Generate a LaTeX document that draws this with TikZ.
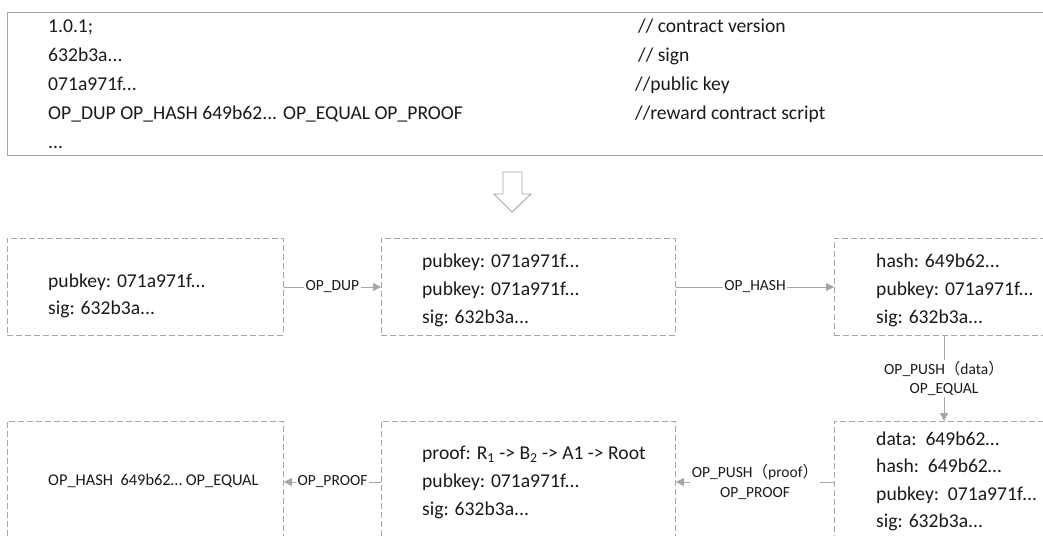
\documentclass[tikz,border=0pt]{standalone}
\usepackage{fontspec}
\setmainfont{Carlito}
\newfontfamily\cjk{Noto Sans CJK SC}
\usetikzlibrary{arrows.meta}
\definecolor{boxgray}{HTML}{A6A6A6}
\definecolor{arrgray}{HTML}{A6A6A6}
\definecolor{textc}{HTML}{1A1A1A}
\begin{document}
\begin{tikzpicture}[x=1pt,y=-1pt,
  dbox/.style={draw=boxgray, dash pattern=on 6pt off 3pt, line width=0.9pt, anchor=north west, inner sep=0pt},
  txt/.style={anchor=mid west, inner sep=0pt, font=\fontsize{19.6}{23}\selectfont, text=textc},
  lbl/.style={fill=white, inner sep=1.5pt, font=\fontsize{15.5}{19.5}\selectfont, text=textc, align=center},
  arr/.style={draw=arrgray, line width=0.9pt, -{Triangle[length=8pt,width=8pt]}}]
\clip (0,0) rectangle (1043,535);
\fill[white] (0,0) rectangle (1043,535);

% top box
\node[draw=boxgray, line width=1pt, anchor=north west, inner sep=0pt, minimum width=1100pt, minimum height=143pt] (top) at (7,12) {};
\node[txt] (t1) at (48,30) {1.0.1;};
\node[txt] (t2) at (48,59) {632b3a...};
\node[txt] (t3) at (48,88) {071a971f...};
\node[txt] (t4) at (48,117) {OP\_DUP OP\_HASH 649b62... OP\_EQUAL OP\_PROOF};
\node[txt] (t5) at (48,146) {...};
\node[txt] (c1) at (638,30) {// contract version};
\node[txt] (c2) at (638,59) {// sign};
\node[txt] (c3) at (635,88) {//public key};
\node[txt] (c4) at (635,117) {//reward contract script};

% hollow arrow
\draw[draw=arrgray, line width=0.9pt, fill=white] (503,172) -- (522,172) -- (522,194) -- (531,194) -- (512,212) -- (494,194) -- (503,194) -- cycle;

% row 1
\node[dbox, minimum width=276pt, minimum height=97pt] (b1) at (7,238) {};
\node[dbox, minimum width=294pt, minimum height=97pt] (b2) at (381,238) {};
\node[dbox, minimum width=260pt, minimum height=97pt] (b3) at (834,238) {};
\node[txt] (b1a) at (48,285) {pubkey: 071a971f...};
\node[txt] (b1b) at (48,312) {sig: 632b3a...};
\node[txt] (b2a) at (422,265) {pubkey: 071a971f...};
\node[txt] (b2b) at (422,293) {pubkey: 071a971f...};
\node[txt] (b2c) at (422,321) {sig: 632b3a...};
\node[txt] (b3a) at (876,265) {hash: 649b62...};
\node[txt] (b3b) at (876,293) {pubkey: 071a971f...};
\node[txt] (b3c) at (876,321) {sig: 632b3a...};

% row 2
\node[dbox, minimum width=276pt, minimum height=140pt] (b4) at (7,421) {};
\node[dbox, minimum width=294pt, minimum height=140pt] (b5) at (381,421) {};
\node[dbox, minimum width=260pt, minimum height=140pt] (b6) at (834,421) {};
\node[anchor=mid west, inner sep=0pt, font=\fontsize{16.4}{18}\selectfont, text=textc] (b4a) at (48,483) {OP\_HASH\ \ 649b62… OP\_EQUAL};
\node[txt] (b5a) at (422,457) {proof: R\textsubscript{1} -> B\textsubscript{2} -> A1 -> Root};
\node[txt] (b5b) at (422,485) {pubkey: 071a971f...};
\node[txt] (b5c) at (422,513) {sig: 632b3a...};
\node[txt] (b6a) at (876,443) {data:\ \ 649b62…};
\node[txt] (b6b) at (876,470) {hash:\ \ 649b62…};
\node[txt] (b6c) at (876,498) {pubkey:\ \ 071a971f…};
\node[txt] (b6d) at (876,525) {sig: 632b3a...};

% connectors
\coordinate (y1) at (0,287);
\coordinate (y2) at (0,482);
\coordinate (xv) at (944,0);
\draw[arr] (b1.east |- y1) -- node[lbl] {OP\_DUP} (b2.west |- y1);
\draw[arr] (b2.east |- y1) -- node[lbl] {OP\_HASH} (b3.west |- y1);
\draw[arr] (b3.south -| xv) -- node[lbl] {OP\_PUSH{\cjk （}data{\cjk ）}\\OP\_EQUAL} (b6.north -| xv);
\draw[arr] (b6.west |- y2) -- node[lbl] {OP\_PUSH{\cjk （}proof{\cjk ）}\\OP\_PROOF} (b5.east |- y2);
\draw[arr] (b5.west |- y2) -- node[lbl] {OP\_PROOF} (b4.east |- y2);
\end{tikzpicture}
\end{document}
